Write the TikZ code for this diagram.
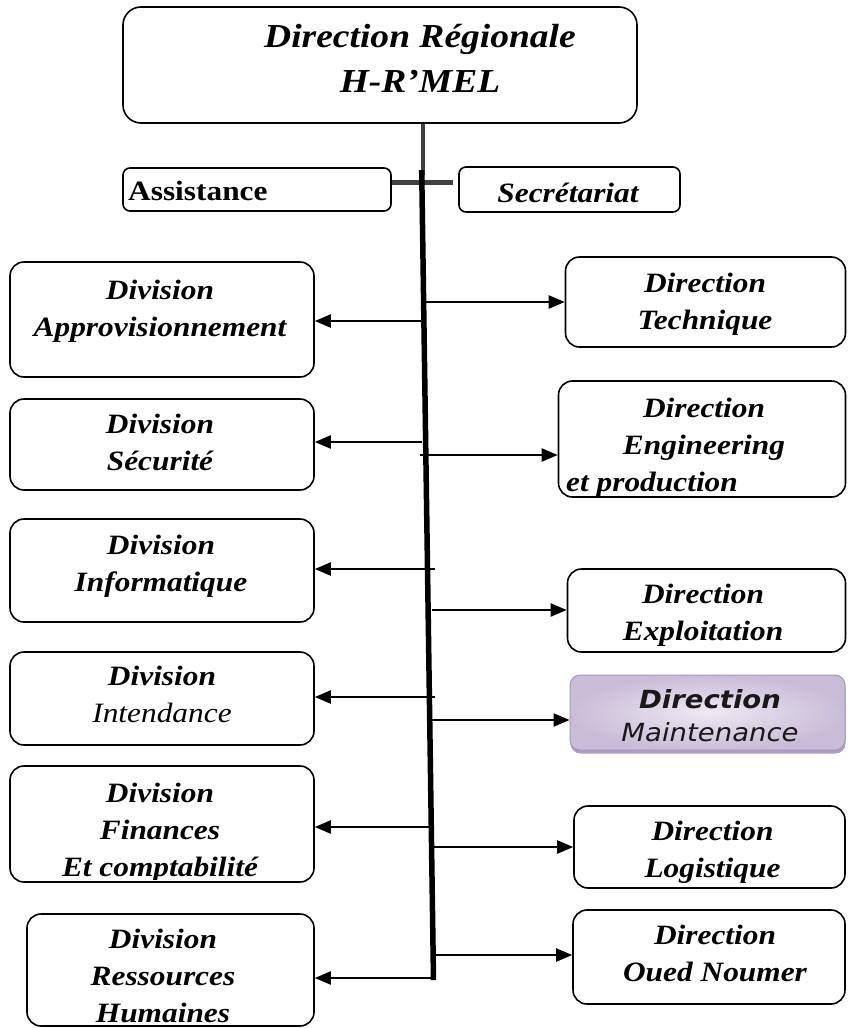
\documentclass[tikz,border=0pt]{standalone}
\usepackage{fontspec}
\setmainfont{Liberation Serif}[FakeStretch=1.12]
\newfontfamily\maintfont{DejaVu Sans}[FakeStretch=1.1,
  ItalicFont={DejaVu Sans Oblique}, BoldItalicFont={DejaVu Sans Bold Oblique}]
\usetikzlibrary{arrows.meta,shadows}

\definecolor{lavlight}{HTML}{EEE9F3}
\definecolor{lavdark}{HTML}{C9BCD8}
\definecolor{lavedge}{HTML}{A897BC}
\definecolor{lavshadow}{HTML}{AE9FC2}

\begin{document}
\begin{tikzpicture}[x=1pt,y=-1pt,
  box/.style={draw=black, line width=1.6pt, rounded corners=14pt, inner sep=0pt},
  smallbox/.style={box, rounded corners=7pt},
  lbl/.style={font=\fontsize{28}{37}\selectfont\bfseries\itshape, align=center, inner sep=0pt},
  single/.style={font=\fontsize{28}{37}\selectfont\bfseries\itshape, inner sep=0pt},
  arr/.style={line width=2.2pt, -{Triangle[length=16pt,width=13pt]}},
  greybar/.style={draw=black!75, line width=5pt},
  spine/.style={draw=black, line width=5.5pt}]

% page frame
\fill[white] (0,0) rectangle (847,1028);
\useasboundingbox (0,0) rectangle (847,1028);

% head of the organisation
\node[box, rounded corners=18pt, minimum width=514pt, minimum height=116pt] (top) at (380,65) {};
\node[lbl, font=\fontsize{33.5}{45}\selectfont\bfseries\itshape] (topt) at (420,58.5)
  {Direction Régionale\\H-R’MEL};

% staff attached to the head
\node[smallbox, minimum width=268pt, minimum height=43pt] (assist) at (257,189.5) {};
\node[single, font=\fontsize{28}{37}\selectfont\bfseries, anchor=base west] (assistt) at (128,200) {Assistance};
\node[smallbox, minimum width=221pt, minimum height=45pt] (secr) at (569.5,189.5) {};
\node[single, anchor=base] (secrt) at (568,202) {Secrétariat};

% divisions (left column)
\node[box, minimum width=304pt, minimum height=115pt] (appro) at (162,319.5) {};
\node[lbl] (approt) at (160,311.5) {Division\\Approvisionnement};
\node[box, minimum width=304pt, minimum height=91pt] (secu) at (162,444.5) {};
\node[lbl] (secut) at (160,442) {Division\\Sécurité};
\node[box, minimum width=304pt, minimum height=103pt] (info) at (162,570.5) {};
\node[lbl] (infot) at (161,566) {Division\\Informatique};
\node[box, minimum width=304pt, minimum height=93pt] (inten) at (162,698.5) {};
\node[lbl] (intent) at (162,694.5) {Division\\{\mdseries Intendance}};
\node[box, minimum width=304pt, minimum height=116pt] (fin) at (162,824) {};
% the last line of this box is cut by the bottom border
\begin{scope}
  \clip (fin.north west) rectangle ([yshift=3pt]fin.south east);
  \node[lbl] (fint) at (160,832.5) {Division\\Finances\\Et comptabilité};
\end{scope}
\node[box, minimum width=287pt, minimum height=112pt] (rh) at (170.5,970) {};
\node[lbl] (rht) at (163,976) {Division\\Ressources\\Humaines};

% directions (right column)
\node[box, minimum width=280pt, minimum height=90pt] (tech) at (705.5,302) {};
\node[lbl] (techt) at (705,304.5) {Direction\\Technique};
\node[box, minimum width=287pt, minimum height=116pt] (eng) at (702,439) {};
\node[lbl] (engt) at (704,429.5) {Direction\\Engineering};
\node[single, anchor=base west] (engt2) at (566,491) {et production};
\node[box, minimum width=278pt, minimum height=83pt] (expl) at (706.5,610.5) {};
\node[lbl] (explt) at (703,615.5) {Direction\\Exploitation};
\node[box, draw=lavedge, line width=1pt, rounded corners=10pt,
      minimum width=275pt, minimum height=75pt,
      inner color=lavlight, outer color=lavdark,
      drop shadow={shadow xshift=0.5pt, shadow yshift=-3.5pt, fill=lavshadow, opacity=1}]
      (maint) at (707.5,712.5) {};
\node[lbl, font=\maintfont\fontsize{25}{33}\selectfont\mdseries, text=black!90] (maintt) at (710,716)
  {{\bfseries\itshape Direction}\\{\itshape Maintenance}};
\node[box, minimum width=271pt, minimum height=82pt] (logi) at (709.5,847) {};
\node[lbl] (logit) at (712.5,852) {Direction\\Logistique};
\node[box, minimum width=272pt, minimum height=94pt] (oued) at (709,957) {};
\node[lbl] (ouedt) at (715,953.5) {Direction\\Oued Noumer};

% junction between the head and the staff
\coordinate (j) at (423,175);
\draw[greybar, line width=4.5pt] (top.south -| j) -- (j);
\coordinate (barR) at (453,182);
\draw[greybar] (barR -| assist.east) -- (barR);

% branches towards the divisions
\coordinate (a1) at (421,321);
\coordinate (a2) at (422,442);
\coordinate (a3) at (435,569);
\coordinate (a4) at (435,697);
\coordinate (a5) at (434,827);
\coordinate (a6) at (433,978);
\draw[arr] (a1) -- (a1 -| appro.east);
\draw[arr] (a2) -- (a2 -| secu.east);
\draw[arr] (a3) -- (a3 -| info.east);
\draw[arr] (a4) -- (a4 -| inten.east);
\draw[arr] (a5) -- (a5 -| fin.east);
\draw[arr] (a6) -- (a6 -| rh.east);

% branches towards the directions
\coordinate (b1) at (423,302);
\coordinate (b2) at (420,455);
\coordinate (b3) at (432,610);
\coordinate (b4) at (432,720);
\coordinate (b5) at (433,847);
\coordinate (b6) at (433,955);
\draw[arr] (b1) -- (b1 -| tech.west);
\draw[arr] (b2) -- (b2 -| eng.west);
\draw[arr] (b3) -- (b3 -| expl.west);
\draw[arr] (b4) -- (b4 -| maint.west);
\draw[arr] (b5) -- (b5 -| logi.west);
\draw[arr] (b6) -- (b6 -| oued.west);

% main hierarchical line
\coordinate (sT) at (421.7,170);
\coordinate (sB) at (433.5,980);
\draw[spine] (sT) -- (sB);
\end{tikzpicture}
\end{document}
